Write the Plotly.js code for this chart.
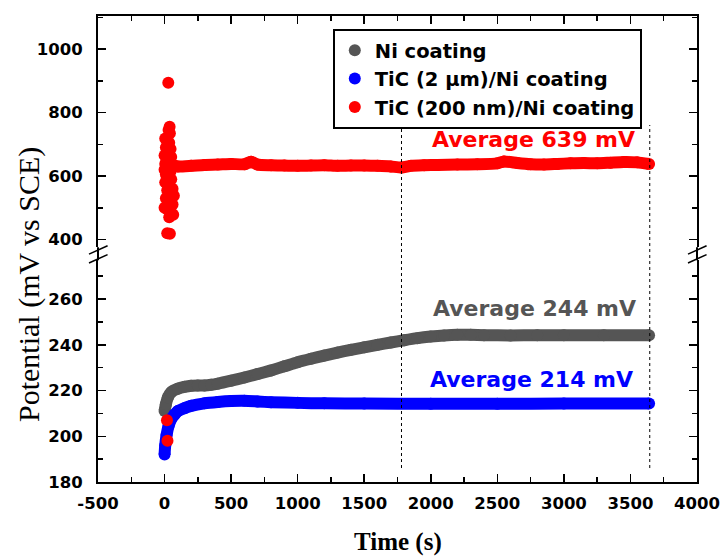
<!DOCTYPE html>
<html>
<head>
<meta charset="utf-8">
<script src="https://cdn.plot.ly/plotly-3.0.1.min.js"></script>
<style>html,body{margin:0;padding:0;background:#fff;}#chart{width:722px;height:556px;}</style>
</head>
<body>
<div id="chart"></div>
<script>
// ---- Data ----
const seriesNames = ["Ni coating", "TiC (2 \u03bcm)/Ni coating", "TiC (200 nm)/Ni coating"];
const seriesColors = ["#555555", "#0000ff", "#ff0000"];

// Ni coating (lower panel)
const niTime = [0, 10, 25, 50, 100, 150, 200, 250, 300, 350, 400, 500, 600, 700, 800, 900, 1000, 1100, 1200, 1300, 1400, 1500, 1600, 1700, 1800, 1900, 2000, 2100, 2200, 2300, 2400, 2600, 2800, 3000, 3300, 3640];
const niPotential = [211, 214, 217, 219.3, 220.8, 221.6, 222.1, 222.2, 222.2, 222.5, 223, 224.3, 225.7, 227.2, 228.8, 230.6, 232.4, 233.9, 235.3, 236.6, 237.8, 238.9, 240, 241, 242, 242.9, 243.6, 244.1, 244.4, 244.4, 244.2, 244.1, 244.2, 244.2, 244.2, 244.2];

// TiC (2 um)/Ni coating (lower panel)
const tic2Time = [0, 5, 15, 30, 50, 75, 100, 150, 200, 300, 400, 500, 600, 700, 800, 1000, 1200, 1500, 2000, 2500, 3000, 3640];
const tic2Potential = [192, 196, 200.5, 204.5, 207.5, 209.5, 211, 212.3, 213.3, 214.4, 215, 215.4, 215.5, 215.2, 214.9, 214.6, 214.4, 214.3, 214.2, 214.2, 214.3, 214.3];

// TiC (200 nm)/Ni coating: initial scattered points (upper panel)
const tic200SpikeTime = [28, 38, 30, 5, 40, 35, 10, 45, 20, 0, 50, 15, 40, 5, 30, 0, 45, 10, 25, 50, 5, 35, 60, 20, 55, 70, 10, 40, 60, 0, 20, 50, 65, 35, 20, 40];
const tic200SpikePotential = [894, 755, 745, 718, 735, 705, 690, 685, 672, 665, 660, 650, 645, 638, 630, 620, 615, 605, 598, 590, 580, 572, 560, 555, 545, 538, 530, 520, 510, 500, 495, 485, 478, 470, 420, 418];
// TiC (200 nm)/Ni coating: steady part (upper panel)
const tic200Time = [70, 100, 200, 300, 400, 500, 600, 650, 700, 800, 900, 1000, 1100, 1200, 1300, 1400, 1500, 1600, 1700, 1780, 1850, 1950, 2050, 2200, 2350, 2500, 2550, 2650, 2750, 2850, 2950, 3050, 3150, 3250, 3350, 3450, 3550, 3640];
const tic200Potential = [633, 630, 632, 635, 636, 638, 637, 645, 636, 634, 633, 632, 633, 634, 632, 633, 633, 632, 630, 627, 632, 634, 635, 636, 637, 640, 646, 641, 637, 636, 638, 640, 641, 640, 642, 644, 643, 638];
// TiC (200 nm)/Ni coating: two early points in the lower panel
const tic200LowTime = [18, 22];
const tic200LowPotential = [207, 198];

// Axis tick labels
const timeTicks = [-500, 0, 500, 1000, 1500, 2000, 2500, 3000, 3500, 4000];
const timeTickText = ["-500", "0", "500", "1000", "1500", "2000", "2500", "3000", "3500", "4000"];

// Averaging window boundaries (dotted lines) and labels
const avgWindow = [1780, 3645];
const avgLabels = ["Average 244 mV", "Average 214 mV", "Average 639 mV"];

// ---- Styling ----
const tickFont = {family: "DejaVu Sans", size: 16.5, color: "#000", weight: "bold"};
const MS = 12, LW = 12;

function lineTrace(x, y, color, xa, ya) {
  return {x, y, type: "scatter", mode: "lines", line: {color, width: LW, shape: "spline", smoothing: 0.6},
          xaxis: xa, yaxis: ya, showlegend: false, hoverinfo: "skip"};
}
function markerTrace(x, y, i, xa, ya, show) {
  return {x, y, type: "scatter", mode: "markers", name: seriesNames[i],
          marker: {color: seriesColors[i], size: MS, line: {width: 0}},
          xaxis: xa, yaxis: ya, showlegend: show, legendgroup: "g" + i};
}

const traces = [
  lineTrace(niTime, niPotential, seriesColors[0], "x", "y"),
  markerTrace(niTime, niPotential, 0, "x", "y", true),
  lineTrace(tic2Time, tic2Potential, seriesColors[1], "x", "y"),
  markerTrace(tic2Time, tic2Potential, 1, "x", "y", true),
  lineTrace(tic200Time, tic200Potential, seriesColors[2], "x2", "y2"),
  markerTrace(tic200SpikeTime.concat(tic200Time), tic200SpikePotential.concat(tic200Potential), 2, "x2", "y2", true),
  markerTrace(tic200LowTime, tic200LowPotential, 2, "x", "y", false)
];

const axisCommon = {
  showline: true, linewidth: 2, linecolor: "#000", showgrid: false, zeroline: false,
  ticks: "inside", ticklen: 8, tickwidth: 1.5, tickcolor: "#000", tickfont: tickFont
};

const breakLo = 0.476, breakHi = 0.504;
const shapes = [];
avgWindow.forEach(t => shapes.push({type: "line", xref: "x", yref: "paper", x0: t, x1: t, y0: 0.03, y1: 0.766,
  line: {color: "#000", width: 1, dash: "dot"}}));
// axis line continuation through the break and break marks
[0, 1].forEach(px => {
  shapes.push({type: "line", xref: "paper", yref: "paper", x0: px, x1: px, y0: breakLo, y1: breakHi, line: {color: "#000", width: 2}});
  shapes.push({type: "line", xref: "paper", yref: "paper", x0: px - 0.015, x1: px + 0.016, y0: 0.489, y1: 0.507, line: {color: "#000", width: 1.5}});
  shapes.push({type: "line", xref: "paper", yref: "paper", x0: px - 0.015, x1: px + 0.016, y0: 0.470, y1: 0.488, line: {color: "#000", width: 1.5}});
});

const annFont = (c) => ({family: "DejaVu Sans", size: 22, color: c, weight: "bold"});
const annotations = [
  {xref: "x", yref: "y", x: 3555, y: 255.7, text: avgLabels[0], showarrow: false, xanchor: "right", yanchor: "middle", font: annFont(seriesColors[0])},
  {xref: "x", yref: "y", x: 3532, y: 225, text: avgLabels[1], showarrow: false, xanchor: "right", yanchor: "middle", font: annFont(seriesColors[1])},
  {xref: "x2", yref: "y2", x: 3547, y: 716, text: avgLabels[2], showarrow: false, xanchor: "right", yanchor: "middle", font: annFont(seriesColors[2])},
  {xref: "paper", yref: "paper", x: -0.115, y: 0.423, text: "Potential (mV vs SCE)", textangle: -90, showarrow: false,
   xanchor: "center", yanchor: "middle", font: {family: "Liberation Serif", size: 30, color: "#000"}},
  {xref: "paper", yref: "paper", x: 0.5, y: -0.129, text: "<b>Time (s)</b>", showarrow: false,
   xanchor: "center", yanchor: "middle", font: {family: "Liberation Serif", size: 25, color: "#000"}}
];

const minorX = {dtick: 250, ticks: "inside", ticklen: 5, tickwidth: 1.5, tickcolor: "#000"};
const layout = {
  width: 722, height: 556,
  margin: {l: 98, r: 25, t: 16, b: 74},
  paper_bgcolor: "#fff", plot_bgcolor: "#fff",
  showlegend: true,
  legend: {x: 0.392, y: 0.972, xanchor: "left", yanchor: "top", bgcolor: "#fff", bordercolor: "#000", borderwidth: 2,
           font: {family: "DejaVu Sans", size: 19.5, color: "#000", weight: "bold"}, tracegroupgap: 0, traceorder: "grouped"},
  xaxis: Object.assign({}, axisCommon, {domain: [0, 1], anchor: "y", range: [-500, 4000], tickmode: "array",
          tickvals: timeTicks, ticktext: timeTickText, ticklabelstandoff: 5, minor: minorX}),
  xaxis2: Object.assign({}, axisCommon, {domain: [0, 1], anchor: "y2", side: "top", matches: "x", showticklabels: false,
          range: [-500, 4000], tickmode: "array", tickvals: timeTicks, minor: minorX}),
  yaxis: Object.assign({}, axisCommon, {domain: [0, breakLo], anchor: "x", range: [180, 277], tick0: 180, dtick: 20, mirror: "ticks",
          ticklabelstandoff: 10, minor: {dtick: 10, ticks: "inside", ticklen: 5, tickwidth: 1.5, tickcolor: "#000"}}),
  yaxis2: Object.assign({}, axisCommon, {domain: [breakHi, 1], anchor: "x2", range: [376, 1104], tick0: 0, dtick: 200, mirror: "ticks",
          ticklabelstandoff: 10, minor: {dtick: 100, ticks: "inside", ticklen: 5, tickwidth: 1.5, tickcolor: "#000"}}),
  shapes, annotations
};

Plotly.newPlot("chart", traces, layout, {displayModeBar: false, staticPlot: true});
</script>
</body>
</html>
